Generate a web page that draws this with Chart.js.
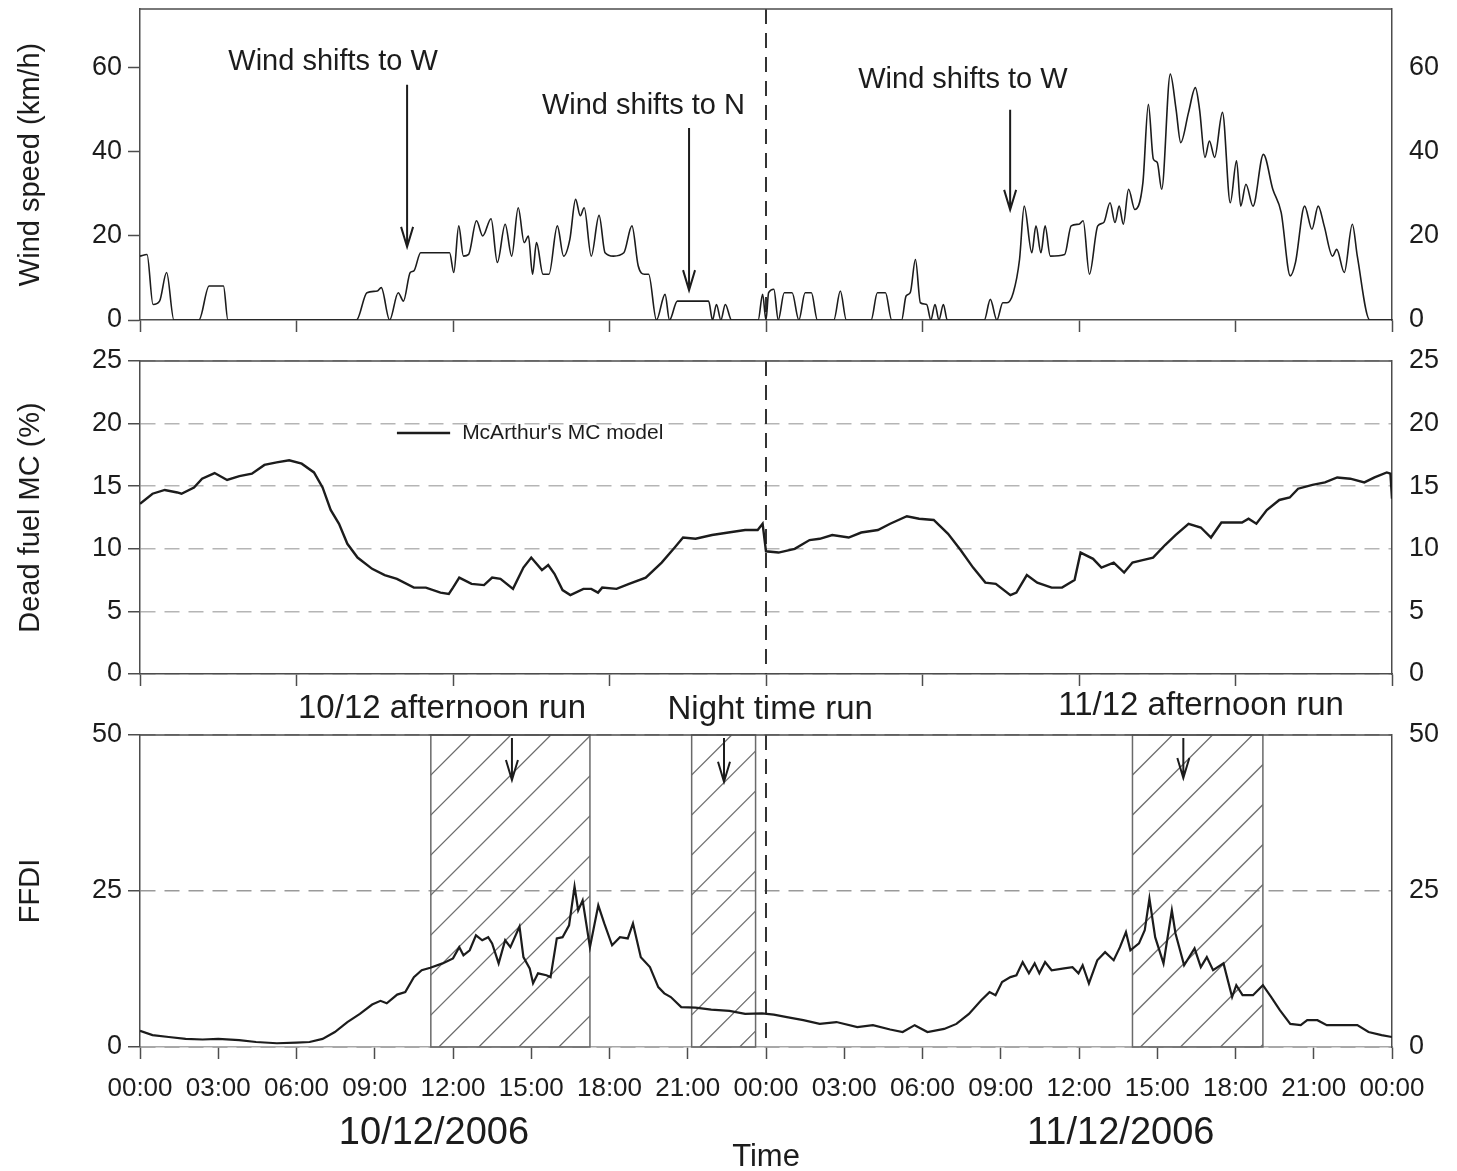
<!DOCTYPE html>
<html lang="en">
<head>
<meta charset="utf-8">
<title>Wind speed, dead fuel MC and FFDI, 10-11/12/2006</title>
<script src="https://cdn.jsdelivr.net/npm/chart.js@4.4.1/dist/chart.umd.min.js"></script>
<style>
  html, body { margin: 0; padding: 0; background: #fff; }
  #page { position: relative; width: 1457px; height: 1171px; background: #fff; }
  canvas { position: absolute; left: 0; }
</style>
</head>
<body>
<div id="page">
  <canvas id="ventChart" width="1457" height="340" style="top:0"></canvas>
  <canvas id="teneurChart" width="1457" height="360" style="top:340px"></canvas>
  <canvas id="ffdiChart" width="1457" height="491" style="top:680px"></canvas>
</div>
<script>
// Heures depuis 00:00 le 10/12/2006 et vitesse du vent (km/h)
const heuresVent = [
  0, 0.27, 0.5, 0.75, 1.02, 1.3, 2.26, 2.65, 3.2, 3.37,
  8.3, 8.7, 9.1, 9.25, 9.57, 9.9, 10.1, 10.36, 10.5, 10.76,
  11.87, 12.03, 12.22, 12.4, 12.6, 12.9, 13.14, 13.46, 13.7, 14.0,
  14.25, 14.5, 14.73, 14.89, 15.05, 15.2, 15.45, 15.68, 16.0, 16.24,
  16.48, 16.7, 16.88, 17.03, 17.3, 17.6, 17.83, 18.15, 18.55, 18.86,
  19.1, 19.34, 19.5, 19.8, 20.13, 20.3, 20.6, 21.8, 21.95, 22.1,
  22.27, 22.44, 22.68, 23.7, 23.87, 24.0, 24.1, 24.3, 24.47, 24.7,
  25.0, 25.26, 25.5, 25.74, 25.97, 26.6, 26.85, 27.08, 28.03, 28.27,
  28.58, 28.82, 29.2, 29.37, 29.53, 29.73, 29.92, 30.16, 30.32, 30.48,
  30.63, 30.8, 30.95, 32.37, 32.6, 32.85, 33.08, 33.24, 33.48, 33.72,
  33.9, 34.19, 34.35, 34.54, 34.7, 34.9, 35.45, 35.7, 36.0, 36.16,
  36.4, 36.72, 36.95, 37.19, 37.38, 37.54, 37.7, 37.9, 38.14, 38.45,
  38.66, 38.85, 39.0, 39.17, 39.5, 39.72, 39.9, 40.2, 40.46, 40.62,
  40.83, 41.0, 41.2, 41.5, 41.8, 42.04, 42.2, 42.4, 42.67, 43.07,
  43.43, 43.75, 44.1, 44.3, 44.65, 44.93, 45.17, 45.4, 45.72, 45.88,
  46.17, 46.48, 46.67, 47.15, 48
];
const vitesseVent = [
  15.2, 15.6, 3.7, 4.5, 11.3, 0, 0, 8.1, 8.1, 0,
  0, 6.5, 6.9, 7.7, 0, 6.5, 4.5, 11.3, 11.7, 16,
  16, 11.3, 22.4, 15.2, 15.6, 23.6, 20, 24.1, 13.7, 22.8,
  15.2, 26.7, 18.4, 20, 10.9, 18.4, 10.9, 10.9, 22.4, 15.2,
  19.2, 28.7, 24.8, 26.7, 15.2, 24.9, 16, 15.2, 16, 22.4,
  12.9, 10.9, 10.9, 0, 6.1, 0, 4.5, 4.5, 0, 3.7,
  0, 3.7, 0, 0, 6.1, 0, 6.5, 7.3, 0, 6.5,
  6.5, 0, 6.5, 6.5, 0, 0, 6.9, 0, 0, 6.5,
  6.5, 0, 0, 5.7, 6.5, 14.4, 4.1, 3.7, 0, 3.7,
  0, 3.7, 0, 0, 4.9, 0, 4.1, 4.1, 6.5, 14.4,
  27.1, 16, 22.4, 16, 22.4, 15.2, 15.6, 22.4, 22.8, 23.6,
  10.9, 22.4, 23.2, 27.9, 23.2, 27.1, 22.8, 31.1, 26.3, 32.7,
  51.3, 38.3, 37.5, 31.1, 58.5, 50.2, 42.2, 49.4, 55.3, 50.2,
  38.7, 42.6, 38.7, 49.4, 27.9, 37.9, 27.1, 32.3, 27.1, 39.4,
  31.1, 25.6, 10.5, 13.7, 27.1, 21.6, 27.1, 22.4, 15.2, 16.8,
  11.3, 22.8, 15.2, 0, 0
];

// Teneur en eau du combustible mort (%), modèle de McArthur
const heuresTeneur = [
  0, 0.48, 0.95, 1.43, 1.59, 2.07, 2.38, 2.86, 3.34, 3.81,
  4.29, 4.77, 5.24, 5.72, 6.2, 6.67, 7.0, 7.31, 7.63, 7.95,
  8.34, 8.9, 9.38, 9.85, 10.5, 10.96, 11.52, 11.84, 12.0, 12.24,
  12.71, 13.19, 13.5, 13.82, 14.3, 14.7, 15.0, 15.41, 15.65, 15.89,
  16.2, 16.5, 17.0, 17.3, 17.56, 17.72, 18.27, 18.75, 19.39, 20.0,
  20.5, 20.82, 21.3, 21.93, 22.56, 23.2, 23.68, 23.87, 24.0, 24.48,
  25.1, 25.67, 26.06, 26.54, 27.17, 27.65, 28.29, 28.76, 29.4, 29.87,
  30.43, 30.98, 31.46, 31.94, 32.41, 32.81, 33.37, 33.6, 34.0, 34.4,
  34.95, 35.35, 35.83, 36.06, 36.54, 36.86, 37.33, 37.73, 38.05, 38.44,
  38.84, 39.3, 39.7, 40.2, 40.67, 41.06, 41.46, 41.78, 42.25, 42.5,
  42.8, 43.2, 43.68, 44.08, 44.4, 44.95, 45.43, 45.9, 46.4, 46.94,
  47.33, 47.8, 47.94, 48.0
];
const teneurEau = [
  13.6, 14.4, 14.7, 14.5, 14.4, 14.9, 15.6, 16.05, 15.5, 15.8,
  16.0, 16.7, 16.9, 17.07, 16.8, 16.1, 14.9, 13.1, 12.0, 10.4,
  9.3, 8.4, 7.9, 7.6, 6.9, 6.9, 6.5, 6.4, 6.9, 7.7,
  7.2, 7.1, 7.7, 7.6, 6.8, 8.5, 9.3, 8.3, 8.7, 8.0,
  6.7, 6.3, 6.8, 6.8, 6.5, 6.9, 6.8, 7.2, 7.7, 8.9,
  10.1, 10.9, 10.8, 11.1, 11.3, 11.5, 11.5, 12.0, 9.8, 9.7,
  10.0, 10.7, 10.8, 11.1, 10.9, 11.3, 11.5, 12.0, 12.6, 12.4,
  12.3, 11.2, 9.9, 8.5, 7.3, 7.2, 6.3, 6.5, 7.9, 7.3,
  6.9, 6.9, 7.5, 9.7, 9.2, 8.5, 8.9, 8.1, 8.9, 9.1,
  9.3, 10.3, 11.1, 12.0, 11.7, 10.9, 12.1, 12.1, 12.1, 12.4,
  12.0, 13.1, 13.9, 14.1, 14.8, 15.1, 15.3, 15.7, 15.6, 15.3,
  15.7, 16.1, 16.0, 14.0
];

// Indice FFDI
const heuresFfdi = [
  0, 0.48, 1.1, 1.75, 2.4, 3.0, 3.8, 4.45, 5.25, 6.0,
  6.5, 7.0, 7.47, 7.95, 8.43, 8.9, 9.22, 9.46, 9.86, 10.17,
  10.5, 10.8, 11.13, 11.6, 12.0, 12.24, 12.4, 12.64, 12.88, 13.12,
  13.35, 13.5, 13.75, 14.0, 14.2, 14.55, 14.7, 14.94, 15.07, 15.26,
  15.58, 15.74, 15.98, 16.2, 16.45, 16.66, 16.8, 16.97, 17.25, 17.57,
  17.8, 18.1, 18.4, 18.7, 18.9, 19.2, 19.55, 19.87, 20.1, 20.35,
  20.75, 21.3, 21.9, 22.6, 23.2, 23.85, 24.3, 24.8, 25.43, 26.06,
  26.7, 27.5, 28.1, 28.76, 29.24, 29.7, 30.19, 30.83, 31.3, 31.78,
  32.25, 32.57, 32.8, 33.05, 33.37, 33.6, 33.84, 34.08, 34.3, 34.48,
  34.7, 34.95, 35.43, 35.75, 35.98, 36.14, 36.38, 36.7, 37.0, 37.33,
  37.57, 37.8, 37.97, 38.3, 38.52, 38.7, 38.92, 39.24, 39.56, 39.7,
  40.03, 40.43, 40.67, 40.9, 41.14, 41.54, 41.87, 42.03, 42.27, 42.67,
  43.05, 43.37, 43.7, 44.1, 44.5, 44.75, 45.14, 45.5, 46.1, 46.67,
  47.1, 47.6, 48.0
];
const valeursFfdi = [
  2.6, 1.9, 1.6, 1.3, 1.2, 1.3, 1.1, 0.8, 0.6, 0.7,
  0.8, 1.3, 2.4, 4.0, 5.3, 6.8, 7.4, 7.0, 8.4, 8.8,
  11.2, 12.3, 12.7, 13.4, 14.2, 16.0, 14.7, 15.5, 17.9, 17.1,
  17.6, 16.6, 13.4, 17.1, 16.0, 19.3, 14.4, 12.6, 10.2, 11.8,
  11.5, 11.2, 17.4, 17.6, 19.5, 25.7, 21.9, 23.5, 16.0, 22.7,
  19.8, 16.3, 17.6, 17.4, 19.8, 14.4, 12.8, 9.6, 8.6, 8.0,
  6.4, 6.3, 6.0, 5.8, 5.3, 5.4, 5.2, 4.8, 4.3, 3.7,
  4.0, 3.2, 3.5, 2.8, 2.4, 3.5, 2.4, 2.9, 3.7, 5.3,
  7.5, 8.8, 8.3, 10.4, 11.2, 11.5, 13.6, 11.8, 13.4, 11.8,
  13.6, 12.3, 12.6, 12.8, 11.8, 13.1, 10.2, 13.9, 15.2, 13.9,
  16.0, 18.4, 15.5, 16.6, 18.7, 23.8, 17.6, 13.4, 21.9, 18.2,
  13.1, 15.8, 12.8, 14.4, 12.3, 13.4, 8.0, 9.9, 8.3, 8.3,
  9.9, 8.0, 5.9, 3.7, 3.5, 4.3, 4.3, 3.5, 3.5, 3.5,
  2.4, 1.9, 1.6
];

// Périodes des feux (heures de début et de fin)
const periodesFeu = [[11.15, 17.25], [21.15, 23.6], [38.05, 43.05]];

// Axe des temps
const positionsHeures = [0, 3, 6, 9, 12, 15, 18, 21, 24, 27, 30, 33, 36, 39, 42, 45, 48];
const etiquettesHeures = ['00:00', '03:00', '06:00', '09:00', '12:00', '15:00', '18:00', '21:00',
  '00:00', '03:00', '06:00', '09:00', '12:00', '15:00', '18:00', '21:00', '00:00'];
const ticksVent = [0, 20, 40, 60];
const ticksTeneur = [0, 5, 10, 15, 20, 25];
const ticksFfdi = [0, 25, 50];

const POLICE = "'Liberation Sans', Arial, Helvetica, sans-serif";
const ENCRE = '#1c1c1c';
const CADRE = '#4d4d4d';

function enPoints(heures, valeurs) {
    return heures.map((h, i) => ({ x: h, y: valeurs[i] }));
}

function ecrire(ctx, chaine, x, y, taille, align) {
    ctx.save();
    ctx.font = `${taille}px ${POLICE}`;
    ctx.fillStyle = ENCRE;
    ctx.textAlign = align || 'center';
    ctx.textBaseline = 'middle';
    ctx.fillText(chaine, x, y);
    ctx.restore();
}

function fleche(ctx, x, yHaut, yBas) {
    ctx.save();
    ctx.strokeStyle = ENCRE;
    ctx.lineWidth = 2;
    ctx.beginPath();
    ctx.moveTo(x, yHaut);
    ctx.lineTo(x, yBas);
    ctx.moveTo(x - 6, yBas - 20);
    ctx.lineTo(x, yBas);
    ctx.lineTo(x + 6, yBas - 20);
    ctx.stroke();
    ctx.restore();
}

// Plugin maison : hachures, cadre, ligne de minuit, flèches et textes
const habillage = {
    id: 'habillage',
    beforeDatasetsDraw(chart, args, opts) {
        const { ctx, chartArea: zone, scales: { x } } = chart;
        const hauteur = zone.bottom - zone.top;

        (opts.zones || []).forEach(([debut, fin]) => {
            const x1 = x.getPixelForValue(debut);
            const x2 = x.getPixelForValue(fin);
            ctx.save();
            ctx.beginPath();
            ctx.rect(x1, zone.top, x2 - x1, hauteur);
            ctx.clip();
            ctx.strokeStyle = '#707070';
            ctx.lineWidth = 1.3;
            ctx.beginPath();
            for (let d = x1 - hauteur; d < x2; d += 40) {
                ctx.moveTo(d, zone.bottom);
                ctx.lineTo(d + hauteur, zone.top);
            }
            ctx.stroke();
            ctx.restore();
            ctx.save();
            ctx.strokeStyle = '#6a6a6a';
            ctx.lineWidth = 1.5;
            ctx.strokeRect(x1, zone.top, x2 - x1, hauteur);
            ctx.restore();
        });

        // séparation entre les deux journées
        const xMinuit = x.getPixelForValue(24);
        ctx.save();
        ctx.strokeStyle = '#333';
        ctx.lineWidth = 2;
        ctx.setLineDash([15, 9]);
        ctx.beginPath();
        ctx.moveTo(xMinuit, zone.top);
        ctx.lineTo(xMinuit, zone.bottom);
        ctx.stroke();
        ctx.restore();
    },
    afterDraw(chart, args, opts) {
        const { ctx, chartArea: zone, scales: { x, y } } = chart;

        // haut du cadre
        ctx.save();
        ctx.strokeStyle = CADRE;
        ctx.lineWidth = 1.5;
        ctx.beginPath();
        ctx.moveTo(zone.left, zone.top);
        ctx.lineTo(zone.right, zone.top);
        ctx.stroke();
        ctx.restore();

        (opts.notes || []).forEach(n => {
            ecrire(ctx, n.texte, x.getPixelForValue(n.x), y.getPixelForValue(n.y), n.taille);
        });
        (opts.fleches || []).forEach(f => {
            fleche(ctx, x.getPixelForValue(f.x), y.getPixelForValue(f.de), y.getPixelForValue(f.a));
        });

        if (opts.legende) {
            const l = opts.legende;
            const yl = y.getPixelForValue(l.y);
            ctx.save();
            ctx.strokeStyle = ENCRE;
            ctx.lineWidth = 2.4;
            ctx.beginPath();
            ctx.moveTo(x.getPixelForValue(l.x1), yl);
            ctx.lineTo(x.getPixelForValue(l.x2), yl);
            ctx.stroke();
            ctx.restore();
            ecrire(ctx, l.texte, x.getPixelForValue(l.xTexte), yl, l.taille, 'left');
        }

        (opts.basDePage || []).forEach(b => {
            ecrire(ctx, b.texte, x.getPixelForValue(b.x), zone.bottom + b.decalage, b.taille);
        });
    }
};

function axeTemps(pas, avecEtiquettes, hauteur, couleurBord) {
    return {
        type: 'linear',
        min: 0,
        max: 48,
        afterBuildTicks: s => {
            s.ticks = positionsHeures.filter(h => h % pas === 0).map(h => ({ value: h }));
        },
        afterFit: s => {
            s.height = hauteur;
            s.paddingLeft = 0;
            s.paddingRight = 0;
        },
        grid: { drawOnChartArea: false, tickLength: 12, tickColor: CADRE, tickWidth: 1.5 },
        border: { color: couleurBord || CADRE, width: 1.5 },
        ticks: {
            display: avecEtiquettes,
            autoSkip: false,
            maxRotation: 0,
            padding: 14,
            color: ENCRE,
            font: { family: POLICE, size: 26 },
            callback: v => etiquettesHeures[positionsHeures.indexOf(v)]
        }
    };
}

function axeGauche(max, valeurs, titre, grille) {
    return {
        position: 'left',
        min: 0,
        max: max,
        afterBuildTicks: s => { s.ticks = valeurs.map(v => ({ value: v })); },
        afterFit: s => {
            s.width = 140;
            s.paddingTop = 0;
            s.paddingBottom = 0;
        },
        title: {
            display: true,
            text: titre,
            color: ENCRE,
            font: { family: POLICE, size: 29 },
            padding: { top: 14, bottom: 0 }
        },
        grid: Object.assign({ drawOnChartArea: false, tickLength: 12, tickColor: CADRE, tickWidth: 1.5, tickBorderDash: [] }, grille || {}),
        border: { color: CADRE, width: 1.5, dash: [15, 9] },
        ticks: { padding: 6, color: ENCRE, font: { family: POLICE, size: 27 } }
    };
}

function axeDroite(max, valeurs) {
    return {
        position: 'right',
        min: 0,
        max: max,
        afterBuildTicks: s => { s.ticks = valeurs.map(v => ({ value: v })); },
        afterFit: s => {
            s.width = 65;
            s.paddingTop = 0;
            s.paddingBottom = 0;
        },
        grid: { drawOnChartArea: false, tickLength: 12, tickColor: 'rgba(0,0,0,0)' },
        border: { color: CADRE, width: 1.5 },
        ticks: { padding: 5, color: ENCRE, font: { family: POLICE, size: 27 } }
    };
}

function creerGraphique(canvasId, points, epaisseur, lissage, hautPadding, scales, decor) {
    const ctx = document.getElementById(canvasId).getContext('2d');
    return new Chart(ctx, {
        type: 'line',
        data: {
            datasets: [{
                data: points,
                borderColor: ENCRE,
                borderWidth: epaisseur,
                pointRadius: 0,
                tension: lissage ? 0.4 : 0,
                cubicInterpolationMode: lissage ? 'monotone' : 'default',
                yAxisID: 'y'
            }]
        },
        options: {
            responsive: false,
            animation: false,
            layout: { padding: { top: hautPadding, left: 0, right: 0, bottom: 0 } },
            scales: scales,
            plugins: {
                legend: { display: false },
                tooltip: { enabled: false },
                habillage: decor
            }
        },
        plugins: [habillage]
    });
}

// Panneau 1 : vitesse du vent
creerGraphique('ventChart', enPoints(heuresVent, vitesseVent), 1.6, true, 9, {
    x: axeTemps(6, false, 20),
    y: axeGauche(74, ticksVent, 'Wind speed (km/h)'),
    yDroite: axeDroite(74, ticksVent)
}, {
    notes: [
        { texte: 'Wind shifts to W', x: 7.4, y: 61.4, taille: 29 },
        { texte: 'Wind shifts to N', x: 19.3, y: 51, taille: 29 },
        { texte: 'Wind shifts to W', x: 31.55, y: 57.1, taille: 29 }
    ],
    fleches: [
        { x: 10.24, de: 56, a: 17.4 },
        { x: 21.05, de: 45.7, a: 7.1 },
        { x: 33.36, de: 50, a: 26.2 }
    ]
});

// Panneau 2 : teneur en eau du combustible mort
creerGraphique('teneurChart', enPoints(heuresTeneur, teneurEau), 2.4, false, 21, {
    x: axeTemps(6, false, 26),
    y: axeGauche(25, ticksTeneur, 'Dead fuel MC (%)', { drawOnChartArea: true, color: '#b5b5b5', lineWidth: 1.5 }),
    yDroite: axeDroite(25, ticksTeneur)
}, {
    legende: { texte: "McArthur's MC model", x1: 9.85, x2: 11.89, xTexte: 12.35, y: 19.25, taille: 21 }
});

// Panneau 3 : FFDI et périodes des feux
creerGraphique('ffdiChart', enPoints(heuresFfdi, valeursFfdi), 2.2, false, 55, {
    x: axeTemps(3, true, 124, '#a8a8a8'),
    y: axeGauche(50, ticksFfdi, 'FFDI', {
        drawOnChartArea: true,
        color: ctx => (ctx.tick && ctx.tick.value === 0 ? '#555' : '#9a9a9a'),
        lineWidth: 1.5
    }),
    yDroite: axeDroite(50, ticksFfdi)
}, {
    zones: periodesFeu,
    notes: [
        { texte: '10/12 afternoon run', x: 11.58, y: 54.2, taille: 33 },
        { texte: 'Night time run', x: 24.16, y: 54.0, taille: 33 },
        { texte: '11/12 afternoon run', x: 40.68, y: 54.6, taille: 33 }
    ],
    fleches: [
        { x: 14.26, de: 49.5, a: 42.8 },
        { x: 22.39, de: 49.5, a: 42.5 },
        { x: 40.0, de: 49.5, a: 43.1 }
    ],
    basDePage: [
        { texte: '10/12/2006', x: 11.27, decalage: 87, taille: 38 },
        { texte: '11/12/2006', x: 37.6, decalage: 87, taille: 38 },
        { texte: 'Time', x: 24, decalage: 110, taille: 31 }
    ]
});
</script>
</body>
</html>
